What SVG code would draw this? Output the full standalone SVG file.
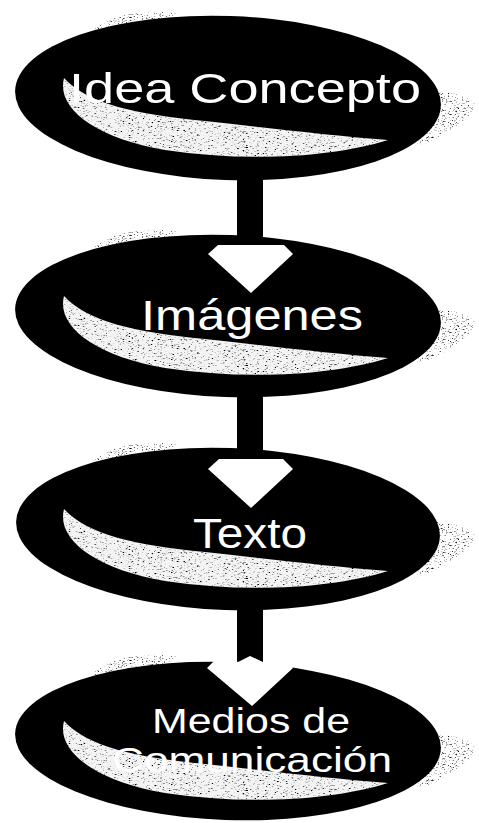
<svg xmlns="http://www.w3.org/2000/svg" width="479" height="823" viewBox="0 0 479 823">
<defs>
<filter id="grain" x="0" y="0" width="1" height="1">
<feTurbulence type="fractalNoise" baseFrequency="0.35 1.2" numOctaves="2" seed="7" result="n"/>
<feColorMatrix in="n" type="matrix" values="0 0 0 0 0  0 0 0 0 0  0 0 0 0 0  5 0 0 0 -2.85" result="dots"/>
<feComposite in="dots" in2="SourceGraphic" operator="in" result="d"/>
<feMerge><feMergeNode in="SourceGraphic"/><feMergeNode in="d"/></feMerge>
</filter>
<filter id="grainOut" x="0" y="0" width="1" height="1">
<feTurbulence type="fractalNoise" baseFrequency="0.5 1.3" numOctaves="2" seed="11" result="n"/>
<feColorMatrix in="n" type="matrix" values="0 0 0 0 0  0 0 0 0 0  0 0 0 0 0  4 0 0 0 -2.3" result="dots"/>
<feComposite in="dots" in2="SourceGraphic" operator="in"/>
</filter>
<path id="crescent" d="M64,78 C56,108 95,138 165,150 C245,162 330,158 388,140 C335,136 268,128 205,121 C135,114 88,104 64,78 Z"/>
<path id="smudgeTL" d="M95,28 C115,14 150,8 178,14 C165,22 140,30 118,44 C105,46 92,40 95,28 Z"/>
<path id="smudgeR" d="M412,92 C435,88 462,92 476,104 C470,120 445,138 415,146 C422,128 425,110 412,92 Z"/>
<style>
.blob{fill:#000}
.hl{fill:#f4f4f4;filter:url(#grain)}
.out{fill:#555;filter:url(#grainOut)}
.lbl{fill:#fff;font-family:"Liberation Sans",Arial,sans-serif;text-anchor:middle}
.bar{fill:#000}
.head{fill:#fff}
</style>
</defs>
<rect width="479" height="823" fill="#fff"/>

<g id="node-idea">
<use href="#smudgeTL" class="out"/>
<use href="#smudgeR" class="out"/>
<ellipse class="blob" cx="228" cy="98" rx="213" ry="82" transform="rotate(2 228 98)"/>
<use href="#crescent" class="hl"/>
<text class="lbl" x="245" y="103" font-size="43" textLength="352" lengthAdjust="spacingAndGlyphs">Idea Concepto</text>
</g>

<g id="node-imagenes">
<g transform="translate(0 218)">
<use href="#smudgeTL" class="out"/>
<use href="#smudgeR" class="out"/>
<ellipse class="blob" cx="228" cy="98" rx="213" ry="81" transform="rotate(2 228 98)"/>
<use href="#crescent" class="hl"/>
</g>
<text class="lbl" x="252" y="330" font-size="42" textLength="222" lengthAdjust="spacingAndGlyphs">Imágenes</text>
</g>

<g id="node-texto">
<g transform="translate(0 431)">
<use href="#smudgeTL" class="out"/>
<use href="#smudgeR" class="out"/>
<ellipse class="blob" cx="228" cy="98" rx="212" ry="81" transform="rotate(2 228 98)"/>
<use href="#crescent" class="hl"/>
</g>
<text class="lbl" x="250" y="548" font-size="42" textLength="114" lengthAdjust="spacingAndGlyphs">Texto</text>
</g>

<g id="node-medios">
<g transform="translate(0 643)">
<use href="#smudgeTL" class="out"/>
<use href="#smudgeR" class="out"/>
<ellipse class="blob" cx="228" cy="98" rx="213" ry="79" transform="rotate(2 228 98)"/>
<use href="#crescent" class="hl"/>
</g>
<text class="lbl" x="251" y="733" font-size="35" textLength="198" lengthAdjust="spacingAndGlyphs">Medios de</text>
<text class="lbl" x="252" y="772" font-size="35" textLength="280" lengthAdjust="spacingAndGlyphs">Comunicación</text>
</g>

<g id="connectors">
<rect class="bar" x="237" y="176" width="26" height="76"/>
<polygon class="head" points="208,254 218,245 284,245 293,254 251,293"/>
<rect class="bar" x="237" y="392" width="26" height="74"/>
<polygon class="head" points="208,469 219,459 283,459 293,469 251,508"/>
<rect class="bar" x="237" y="606" width="26" height="58"/>
<polygon class="head" points="207,668 222,653 238,662 250,656 263,662 278,653 293,668 252,706"/>
</g>
</svg>
